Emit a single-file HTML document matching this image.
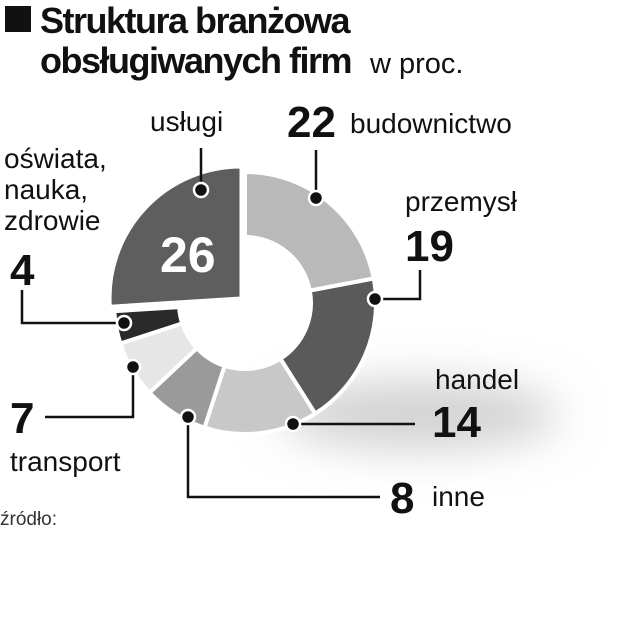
<!DOCTYPE html>
<html><head><meta charset="utf-8"><style>
body{margin:0;width:629px;height:640px;background:#fff;overflow:hidden;position:relative;font-family:"Liberation Sans",sans-serif;color:#111}
.t{position:absolute;white-space:nowrap;line-height:1}
.b{font-weight:bold}
</style></head><body>
<svg width="629" height="640" style="position:absolute;left:0;top:0">
<defs><filter id="bl" x="-50%" y="-100%" width="200%" height="300%"><feGaussianBlur stdDeviation="22"/></filter></defs>
<ellipse cx="420" cy="415" rx="140" ry="35" fill="#d2d2d2" filter="url(#bl)"/>
<g id="pie"></g>
<g stroke="#111" stroke-width="2.5" fill="none">
<polyline points="201,190 201,148"/>
<polyline points="316,198 316,150"/>
<polyline points="375,299 420,299 420,270"/>
<polyline points="124,323 22,323 22,290"/>
<polyline points="133,367 133,417 45,417"/>
<polyline points="188,417 188,497 380,497"/>
<polyline points="293,424 415,424"/>
</g>
<g fill="#111" stroke="#fff" stroke-width="2.5">
<circle cx="201" cy="190" r="7"/><circle cx="316" cy="198" r="7"/><circle cx="375" cy="299" r="7"/>
<circle cx="124" cy="323" r="7"/><circle cx="133" cy="367" r="7"/><circle cx="188" cy="417" r="7"/><circle cx="293" cy="424" r="7"/>
</g>
<rect x="5" y="6" width="26" height="26" fill="#111"/>
</svg>
<script>
(function(){
var cx=245,cy=303,R=131,r=66,g=document.getElementById('pie');
function p(a,rad,ox,oy){a=a*Math.PI/180;return [(cx+ox+rad*Math.sin(a)).toFixed(1),(cy+oy-rad*Math.cos(a)).toFixed(1)].join(',');}
var seg=[[0,79.2,'#b9b9b9'],[79.2,147.6,'#5a5a5a'],[147.6,198,'#c8c8c8'],[198,226.8,'#9a9a9a'],[226.8,252,'#e6e6e6'],[252,266.4,'#2a2a2a']];
var s='';
seg.forEach(function(q){var l=(q[1]-q[0])>180?1:0;
s+='<path d="M'+p(q[0],R,0,0)+' A'+R+','+R+' 0 '+l+' 1 '+p(q[1],R,0,0)+' L'+p(q[1],r,0,0)+' A'+r+','+r+' 0 '+l+' 0 '+p(q[0],r,0,0)+' Z" fill="'+q[2]+'" stroke="#fff" stroke-width="4"/>';});
s+='<path d="M'+p(0,0,-4,-5)+' L'+p(266.4,R,-4,-5)+' A'+R+','+R+' 0 0 1 '+p(360,R,-4,-5)+' Z" fill="#5e5e5e" stroke="#fff" stroke-width="3"/>';
g.innerHTML=s;
})();
</script>
<div class="t b" style="left:40px;top:3px;font-size:36px;letter-spacing:-1.5px">Struktura branżowa</div>
<div class="t b" style="left:40px;top:43px;font-size:36px;letter-spacing:-1.5px">obsługiwanych firm</div>
<div class="t" style="left:370px;top:50px;font-size:29px">w proc.</div>
<div class="t" style="left:150px;top:108px;font-size:28px">usługi</div>
<div class="t b" style="left:287px;top:101px;font-size:44px">22</div>
<div class="t" style="left:350px;top:110px;font-size:28px">budownictwo</div>
<div class="t" style="left:405px;top:188px;font-size:28px">przemysł</div>
<div class="t b" style="left:405px;top:225px;font-size:44px">19</div>
<div class="t" style="left:4px;top:143px;font-size:28px;line-height:31px">oświata,<br>nauka,<br>zdrowie</div>
<div class="t b" style="left:10px;top:249px;font-size:44px">4</div>
<div class="t b" style="left:160px;top:230px;font-size:50px;color:#fff">26</div>
<div class="t" style="left:435px;top:366px;font-size:28px">handel</div>
<div class="t b" style="left:432px;top:401px;font-size:44px">14</div>
<div class="t b" style="left:10px;top:397px;font-size:44px">7</div>
<div class="t" style="left:10px;top:448px;font-size:28px">transport</div>
<div class="t b" style="left:390px;top:477px;font-size:44px">8</div>
<div class="t" style="left:432px;top:483px;font-size:28px">inne</div>
<div class="t" style="left:0px;top:510px;font-size:19px;color:#333">źródło:</div>
</body></html>
